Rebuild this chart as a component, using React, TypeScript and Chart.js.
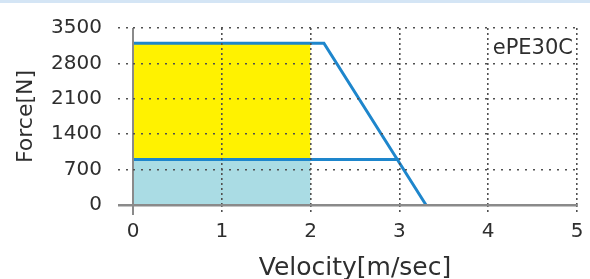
import React, { useEffect, useRef } from "react";
import { Chart, registerables } from "chart.js";

Chart.register(...registerables);

const xTicks = [0, 1, 2, 3, 4, 5];
const yTicks = [0, 700, 1400, 2100, 2800, 3500];
const continuousZoneX = [0, 2];
const continuousForce = [900, 900];
const peakZoneX = [0, 2];
const peakForce = [3200, 3200];
const peakCurveX = [0, 2.15, 3.3];
const peakCurveY = [3200, 3200, 0];
const contCurveX = [0, 3.0];
const contCurveY = [900, 900];
const modelLabel = "ePE30C";

const pts = (xs: number[], ys: number[]) => xs.map((x, i) => ({ x, y: ys[i] }));

const FONT = "'DejaVu Sans', sans-serif";
const TEXT = "#2e2e2e";
const GRID = "#505050";
const AXIS = "#8a8a8a";

const isZero = (c: any) => c.tick && c.tick.value === 0;

const labelPlugin = {
  id: "modelLabel",
  afterDraw(chart: any) {
    const { ctx, chartArea } = chart;
    ctx.save();
    ctx.font = `21px ${FONT}`;
    ctx.fillStyle = TEXT;
    ctx.textAlign = "right";
    ctx.textBaseline = "middle";
    ctx.fillText(modelLabel, chartArea.right - 4, chartArea.top + 21);
    ctx.restore();
  },
};

export default function App() {
  const ref = useRef<HTMLCanvasElement | null>(null);
  useEffect(() => {
    if (!ref.current) return;
    const chart = new Chart(ref.current, {
      type: "line",
      data: {
        datasets: [
          {
            data: pts(continuousZoneX, continuousForce),
            fill: "origin",
            backgroundColor: "#aadce4",
            borderWidth: 0,
            pointRadius: 0,
            order: 2,
          },
          {
            data: pts(peakZoneX, peakForce),
            fill: 0,
            backgroundColor: "#fff200",
            borderWidth: 0,
            pointRadius: 0,
            order: 2,
          },
          {
            data: pts(peakCurveX, peakCurveY),
            fill: false,
            borderColor: "#1e86cc",
            borderWidth: 3,
            pointRadius: 0,
            order: 0,
            clip: false as any,
          },
          {
            data: pts(contCurveX, contCurveY),
            fill: false,
            borderColor: "#1e86cc",
            borderWidth: 3,
            pointRadius: 0,
            order: 0,
            clip: false as any,
          },
        ],
      },
      options: {
        animation: false,
        responsive: false,
        maintainAspectRatio: false,
        layout: { padding: { left: 0, right: 13, top: 22, bottom: 0 } },
        plugins: {
          legend: { display: false },
          tooltip: { enabled: false },
          filler: { drawTime: "beforeDatasetsDraw" } as any,
        },
        scales: {
          x: {
            type: "linear",
            min: 0,
            max: 5,
            afterBuildTicks: (s: any) => {
              s.ticks = xTicks.map((v) => ({ value: v }));
            },
            afterFit: (s: any) => {
              s.height = 74;
            },
            ticks: {
              color: TEXT,
              font: { family: FONT, size: 20 },
              padding: 5,
              maxRotation: 0,
              callback: (v: any) => String(v),
            },
            grid: {
              z: 1,
              color: (c: any) => (isZero(c) ? AXIS : GRID),
              lineWidth: (c: any) => (isZero(c) ? 2 : 1.6),
              tickLength: 10,
              tickColor: (c: any) => (isZero(c) ? AXIS : GRID),
              tickWidth: (c: any) => (isZero(c) ? 2 : 1.6),
              tickBorderDash: (c: any) => (isZero(c) ? [] : [2, 3]),
            } as any,
            border: {
              display: false,
              dash: (c: any) => (isZero(c) ? [] : [2, 3]),
            } as any,
            title: {
              display: true,
              text: "Velocity[m/sec]",
              color: TEXT,
              font: { family: FONT, size: 25, lineHeight: 0.85 },
              padding: { top: 0, bottom: 0 },
            },
          },
          y: {
            type: "linear",
            min: 0,
            max: 3500,
            afterBuildTicks: (s: any) => {
              s.ticks = yTicks.map((v) => ({ value: v }));
            },
            afterFit: (s: any) => {
              s.width = 133;
            },
            ticks: {
              color: TEXT,
              font: { family: FONT, size: 20 },
              padding: 16,
              callback: (v: any) => String(v),
            },
            grid: {
              z: 1,
              color: (c: any) => (isZero(c) ? AXIS : GRID),
              lineWidth: (c: any) => (isZero(c) ? 2.5 : 1.6),
              tickLength: 15,
              tickColor: (c: any) => (isZero(c) ? AXIS : GRID),
              tickWidth: (c: any) => (isZero(c) ? 2.5 : 1.6),
              tickBorderDash: (c: any) => (isZero(c) ? [] : [2, 6]),
            } as any,
            border: {
              display: false,
              dash: (c: any) => (isZero(c) ? [] : [2, 6]),
            } as any,
            title: {
              display: true,
              text: "Force[N]",
              color: TEXT,
              font: { family: FONT, size: 22 },
              padding: { top: 13, bottom: 0 },
            },
          },
        },
      },
      plugins: [labelPlugin],
    });
    return () => chart.destroy();
  }, []);

  return (
    <div
      style={{
        position: "fixed",
        left: 0,
        top: 0,
        width: 590,
        height: 279,
        background: "#ffffff",
        overflow: "hidden",
      }}
    >
      <div
        style={{
          position: "absolute",
          left: 0,
          top: 0,
          width: 590,
          height: 3,
          background: "#d4e5f5",
        }}
      />
      <canvas ref={ref} width={590} height={279} style={{ display: "block" }} />
    </div>
  );
}
